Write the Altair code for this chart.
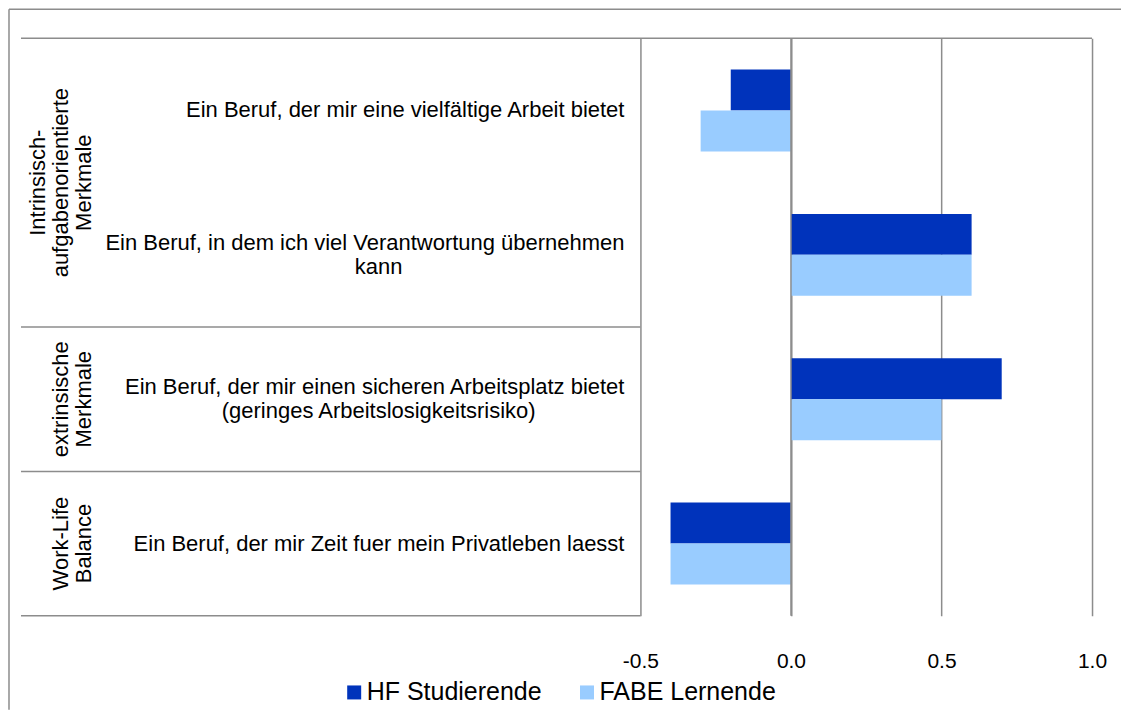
import altair as alt
import pandas as pd

FONT = "Liberation Sans"
GRAY = "#8c8c8c"

# ---- data ----
cat_line1 = [
    "Ein Beruf, der mir eine vielfältige Arbeit bietet",
    "Ein Beruf, in dem ich viel Verantwortung übernehmen",
    "Ein Beruf, der mir einen sicheren Arbeitsplatz bietet",
    "Ein Beruf, der mir Zeit fuer mein Privatleben laesst",
]
cat_line2 = ["", "kann", "(geringes Arbeitslosigkeitsrisiko)", ""]
group_lines = [
    ["Intrinsisch-", "aufgabenorientierte", "Merkmale"],
    ["Intrinsisch-", "aufgabenorientierte", "Merkmale"],
    ["extrinsische", "Merkmale"],
    ["Work-Life", "Balance"],
]
series = ["HF Studierende", "FABE Lernende"]
hf_values = [-0.2, 0.6, 0.7, -0.4]
fabe_values = [-0.3, 0.6, 0.5, -0.4]
x_ticks = [-0.5, 0.0, 0.5, 1.0]
x_domain = [-0.5, 1.0]
colors = ["#0033BB", "#99CCFF"]

# ---- tables ----
categories = [(a + " " + b).strip() for a, b in zip(cat_line1, cat_line2)]
n = len(categories)
max_lines = max(len(g) for g in group_lines)
group_text = ["\n" * (max_lines - len(g)) + "\n".join(g) for g in group_lines]

left_df = pd.DataFrame({
    "cat": categories,
    "idx": list(range(n)),
    "group": group_text,
})

line_rows = []
for i, (a, b) in enumerate(zip(cat_line1, cat_line2)):
    lines = [a] + ([b] if b else [])
    for k, t in enumerate(lines):
        line_rows.append({"idx": i, "k": k, "nl": len(lines), "text": t})
lines_df = pd.DataFrame(line_rows)

rows = []
for s, vals in zip(series, [hf_values, fabe_values]):
    for c, v in zip(categories, vals):
        rows.append({"cat": c, "series": s, "value": v})
bar_df = pd.DataFrame(rows)
one = pd.DataFrame({"k": [0]})

LEFT_W = 620
PLOT_W = 452
H = 578
LH = 24  # line height of category labels (px)
unit_per_px = n / H

y_scale = alt.Scale(domain=[0, n], reverse=True, nice=False, zero=False)

base = alt.Chart(left_df)

seps = base.transform_aggregate(
    hi="max(idx)", groupby=["group"]
).transform_calculate(yb="datum.hi + 1").mark_rule(
    color=GRAY, strokeWidth=1.5
).encode(
    x=alt.value(0), x2=alt.value(LEFT_W),
    y=alt.Y("yb:Q", scale=y_scale, axis=None),
)

top = base.transform_aggregate(lo="min(idx)").mark_rule(
    color=GRAY, strokeWidth=1.5
).encode(
    x=alt.value(0), x2=alt.value(LEFT_W + PLOT_W),
    y=alt.Y("lo:Q", scale=y_scale, axis=None),
)

frame_left = alt.Chart(one).mark_rule(color=GRAY, strokeWidth=1.5).encode(
    x=alt.value(-12), y=alt.value(-29), y2=alt.value(672)
)
frame_top = alt.Chart(one).mark_rule(color=GRAY, strokeWidth=1.5).encode(
    x=alt.value(-12), x2=alt.value(1101), y=alt.value(-29)
)

line_base = alt.Chart(lines_df).transform_calculate(
    yl=f"datum.idx + 0.5 + (datum.k - (datum.nl - 1) / 2) * {LH * unit_per_px}"
)

labelsA = line_base.transform_filter("datum.k == 0").mark_text(
    align="right", baseline="middle", font=FONT, fontSize=22, color="black"
).encode(
    x=alt.value(604),
    y=alt.Y("yl:Q", scale=y_scale, axis=None),
    text="text:N",
)

labelsB = line_base.transform_filter("datum.k > 0").mark_text(
    align="center", baseline="middle", font=FONT, fontSize=22, color="black"
).encode(
    x=alt.value(358),
    y=alt.Y("yl:Q", scale=y_scale, axis=None),
    text="text:N",
)

groups = base.transform_aggregate(
    lo="min(idx)", hi="max(idx)", groupby=["group"]
).transform_calculate(yc="(datum.lo + datum.hi + 1) / 2").mark_text(
    angle=270, align="center", baseline="middle", font=FONT, fontSize=22,
    lineBreak="\n", lineHeight=23, color="black"
).encode(
    x=alt.value(17),
    y=alt.Y("yc:Q", scale=y_scale, axis=None),
    text="group:N",
)

left = alt.layer(seps, top, frame_left, frame_top, labelsA, labelsB, groups).properties(
    width=LEFT_W, height=H
)

bars = alt.Chart(bar_df).mark_bar().encode(
    x=alt.X(
        "value:Q",
        scale=alt.Scale(domain=x_domain, nice=False),
        axis=alt.Axis(
            values=x_ticks, grid=True, gridColor=GRAY, gridWidth=1.5,
            domain=False, ticks=False, tickSize=0, labelFlush=False,
            labelOverlap=False, labelFont=FONT, labelFontSize=21,
            labelColor="black", labelPadding=35, title=None,
            labelExpr="(datum.value < 0 ? '-' : '') + format(abs(datum.value), '.1f')",
        ),
    ),
    y=alt.Y("cat:N", sort=categories,
            scale=alt.Scale(paddingInner=0, paddingOuter=0), axis=None),
    yOffset=alt.YOffset("series:N", sort=series,
                        scale=alt.Scale(paddingInner=0, paddingOuter=0.762)),
    color=alt.Color(
        "series:N", sort=series,
        scale=alt.Scale(domain=series, range=colors),
        legend=alt.Legend(
            orient="none", legendX=321, legendY=642, direction="horizontal",
            columns=2, title=None, symbolType="square", symbolSize=196,
            symbolStrokeWidth=0, labelFont=FONT, labelFontSize=25,
            labelColor="black", labelOffset=0, columnPadding=32, padding=0,
            labelLimit=0,
        ),
    ),
)

zero_rule = alt.Chart(one).mark_rule(color=GRAY, strokeWidth=1.5).encode(
    x=alt.datum(0)
)

right = alt.layer(bars, zero_rule).properties(width=PLOT_W, height=H)

chart = alt.hconcat(left, right, spacing=0, bounds="flush", padding=0).configure_view(
    stroke=None
)

chart.save("out.html", embed_options={"renderer": "svg", "actions": False})
